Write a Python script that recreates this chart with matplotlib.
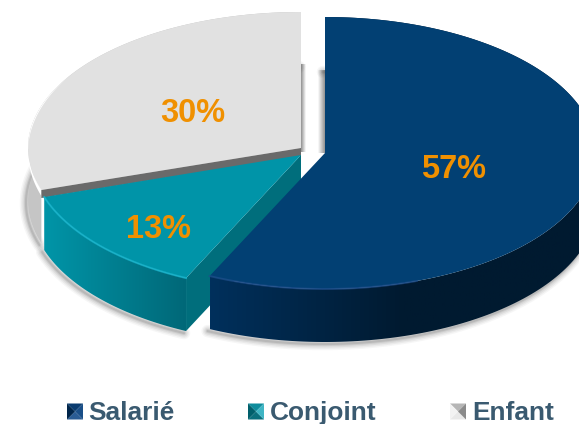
import numpy as np
import matplotlib
matplotlib.use("Agg")
import matplotlib.pyplot as plt
from matplotlib.colors import LinearSegmentedColormap
from matplotlib.patches import Polygon

categories = ["Salarié", "Conjoint", "Enfant"]
values = [57, 13, 30]
labels = ["57%", "13%", "30%"]

top_colors = ["#024073", "#0094A8", "#E1E1E1"]
cut_colors = ["#012A50", "#006E7C", "#6A6A6A"]
rim_colors = ["#1F4E8C", "#17B4CC", "#FFFFFF"]
side_ramps = [["#00305C", "#001A30", "#001A30"],
              ["#0095A8", "#006878"],
              ["#C6C6C6", "#BDBDBD"]]
apexes = [(325, 153), (301, 155), (301, 148)]
radii_x = [271, 270, 273]
label_pos = [(454, 170), (159, 229), (193, 114)]
RY, DEPTH = 136, 53

plt.rcParams["font.family"] = ["Liberation Sans", "DejaVu Sans"]
fig = plt.figure(figsize=(5.79, 4.24), dpi=100)
ax = fig.add_axes([0, 0, 1, 1])

edges = np.concatenate([[0], np.cumsum(values)]) / sum(values) * 360


def arc(i, a0, a1, dy=0.0, n=160):
    apex = apexes[i]
    t = np.radians(np.linspace(a0, a1, n))
    return np.column_stack([apex[0] + radii_x[i] * np.sin(t),
                            apex[1] - RY * np.cos(t) + dy])


def gradient(patch, colors, zorder):
    xy = patch.get_xy()
    cmap = LinearSegmentedColormap.from_list("g", colors)
    im = ax.imshow(np.linspace(0, 1, 256)[None, :], cmap=cmap, aspect="auto",
                   extent=(xy[:, 0].min(), xy[:, 0].max(),
                           xy[:, 1].max(), xy[:, 1].min()), zorder=zorder)
    ax.add_patch(patch)
    patch.set_visible(False)
    im.set_clip_path(patch)


z = 2
for i in [2, 1, 0]:
    a0, a1 = edges[i], edges[i + 1]
    apex = apexes[i]
    upper = arc(i, a0, a1)
    lower = arc(i, a0, a1, DEPTH)
    top = np.vstack([[apex], upper])
    band = np.vstack([upper, lower[::-1]])
    # soft drop shadow below the rim
    for w, al in [(9, .05), (7, .07), (5, .09), (3, .12), (1.5, .16)]:
        ax.plot(lower[:, 0] - 2, lower[:, 1] + 2, color="#555555", lw=w,
                alpha=al, solid_capstyle="round", zorder=z)
    z += 1
    # inner cut face looking towards the viewer
    c = upper[0]
    if i != 2:
        ax.add_patch(Polygon([apex, c, (c[0], c[1] + DEPTH), (apex[0], apex[1] + DEPTH)],
                             closed=True, fc=cut_colors[i], ec="none", zorder=z))
    z += 1
    gradient(Polygon(band, closed=True), side_ramps[i], z)
    z += 1
    ax.add_patch(Polygon(top, closed=True, fc=top_colors[i], ec="none", zorder=z))
    z += 1
    # bevel along the outer edge
    if i == 2:
        r0 = arc(i, a0, a0 + 50)
        r1 = r0.copy()
        r1[:, 1] += np.linspace(6, 0, len(r1))
        ax.add_patch(Polygon(np.vstack([r0, r1[::-1]]), closed=True, fc="#FFFFFF",
                             ec="none", zorder=z))
        ax.add_patch(Polygon([apex, c, (c[0], c[1] + 8), (apex[0], apex[1] + 8)],
                             closed=True, fc=cut_colors[i], ec="none", zorder=z))
    elif i == 1:
        ax.plot(upper[:, 0], upper[:, 1], color=rim_colors[i], lw=1.4, zorder=z,
                alpha=.8)
    else:
        rim = arc(i, a1 - 45, a1)
        ax.plot(rim[:, 0], rim[:, 1], color=rim_colors[i], lw=1.4, zorder=z, alpha=.7)
    z += 1

# shadows cast in the white gap between slices
gradient(Polygon([(301, 64), (306, 64), (306, 152), (301, 152)], closed=True),
         ["#8F8F8F", "#FFFFFF"], 1)
gradient(Polygon([(318, 70), (325, 70), (325, 153), (318, 153)], closed=True),
         ["#FFFFFF", "#C8C8C8", "#909090"], 1)

for s, (x, y) in zip(labels, label_pos):
    ax.text(x, y, s, color="#F09000", fontsize=23.5, fontweight="bold",
            ha="center", va="center", zorder=z + 1)

# legend with bevelled keys
key_top = ["#0A3C70", "#0E8C9C", "#B5B5B5"]
key_bot = ["#2A5C94", "#0A6F7C", "#E8E8E8"]
key_left = ["#00254A", "#005F6B", "#F2F2F2"]
key_right = ["#1A4F88", "#3FB5C4", "#8A8A8A"]
key_x = [67, 248, 450]
text_x = [88, 269.5, 472]
LY, KS = 411.5, 16
for i, cat in enumerate(categories):
    x0, x1 = key_x[i], key_x[i] + KS
    y0, y1 = LY - KS / 2, LY + KS / 2
    cx, cy = (x0 + x1) / 2, (y0 + y1) / 2
    ax.add_patch(Polygon([(x0, y0), (x1, y0), (cx, cy)], fc=key_top[i], ec="none", zorder=z))
    ax.add_patch(Polygon([(x0, y1), (x1, y1), (cx, cy)], fc=key_bot[i], ec="none", zorder=z))
    ax.add_patch(Polygon([(x0, y0), (x0, y1), (cx, cy)], fc=key_left[i], ec="none", zorder=z))
    ax.add_patch(Polygon([(x1, y0), (x1, y1), (cx, cy)], fc=key_right[i], ec="none", zorder=z))
    ax.text(text_x[i], LY + 1.5, cat, color="#3A5A70", fontsize=18.9, fontweight="bold",
            ha="left", va="center", zorder=z)

ax.set_xlim(0, 579)
ax.set_ylim(424, 0)
ax.axis("off")
fig.savefig("out.png", dpi=100, facecolor="white")
